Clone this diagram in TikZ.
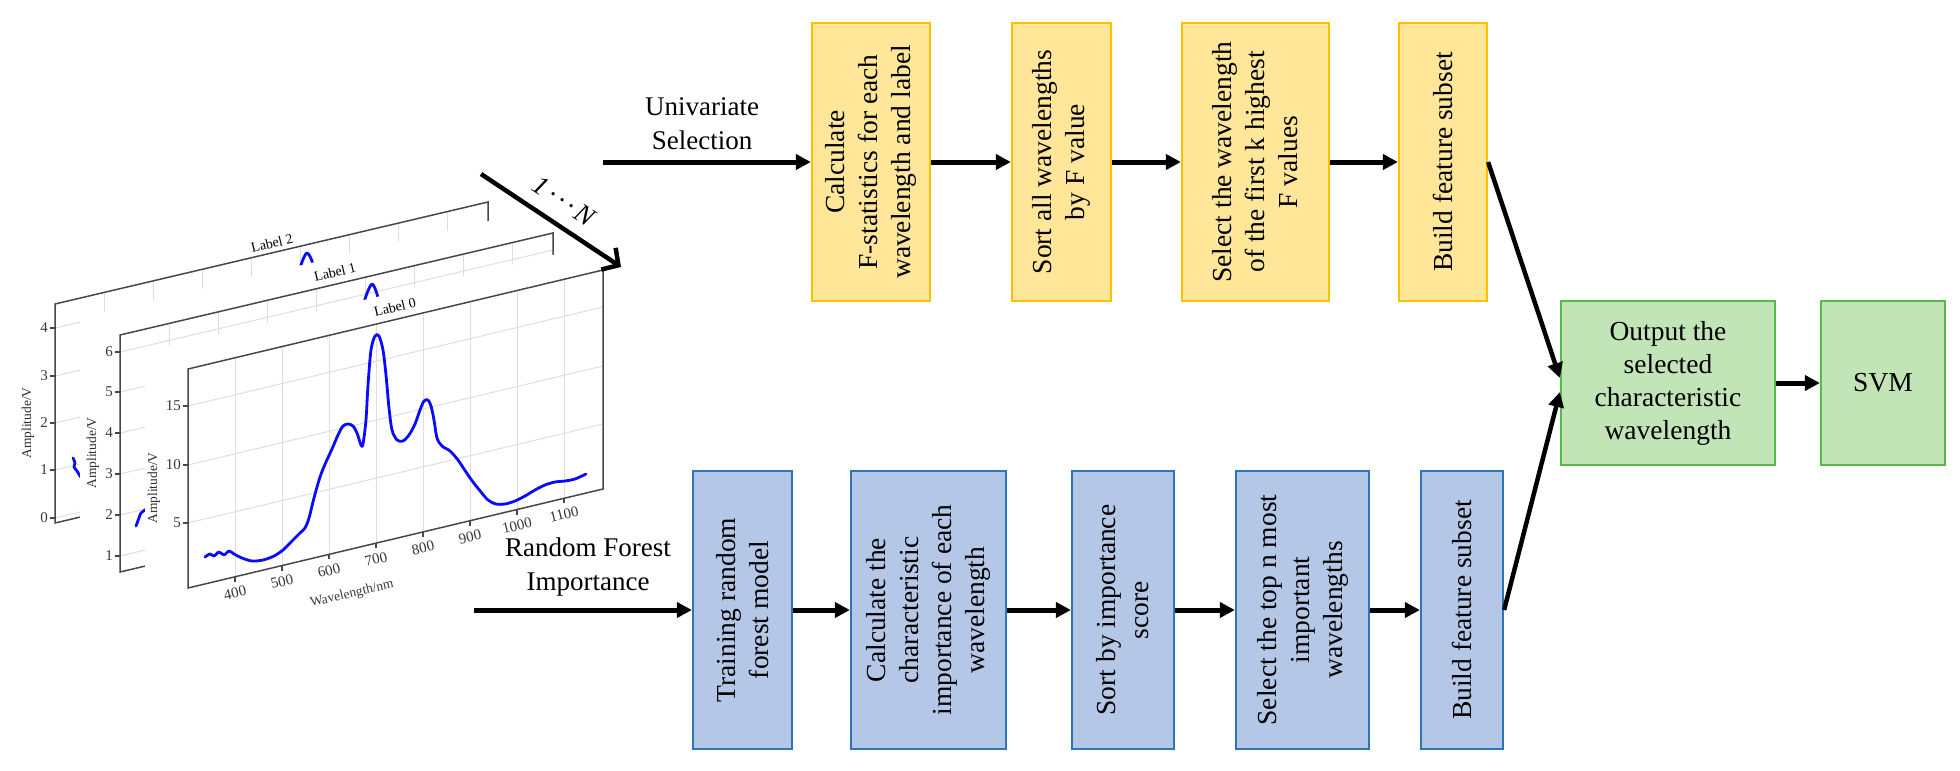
\documentclass[tikz,border=0pt]{standalone}
\usepackage{fontspec}
\setmainfont{Liberation Serif}
\usetikzlibrary{arrows.meta}
\definecolor{ybox}{RGB}{255,230,153}
\definecolor{yline}{RGB}{255,192,0}
\definecolor{bbox}{RGB}{180,199,231}
\definecolor{bline}{RGB}{46,117,182}
\definecolor{gbox}{RGB}{193,229,182}
\definecolor{gline}{RGB}{84,186,72}
\definecolor{specblue}{RGB}{10,10,255}

\begin{document}
\begin{tikzpicture}[x=1pt,y=-1pt,
  box/.style={line width=2.2pt,rotate=90,align=center,inner sep=0pt,
    minimum width=278pt,font=\fontsize{27.5}{33}\selectfont},
  ybx/.style={box,fill=ybox,draw=yline},
  bbx/.style={box,fill=bbox,draw=bline},
  gbx/.style={draw=gline,fill=gbox,line width=2.2pt,align=center,
    inner sep=0pt,minimum height=164pt,font=\fontsize{27.5}{33}\selectfont},
  flow/.style={line width=5pt,-{Triangle[length=15pt,width=15pt]}},
  gridln/.style={black!13,line width=1pt},
  rim/.style={black!72,line width=1.5pt},
  spec/.style={specblue,line width=2.8pt,line cap=round,line join=round},
  ticklbl/.style={font=\fontsize{15}{15}\selectfont,text=black!78,inner sep=1pt},
  axttl/.style={font=\fontsize{13.5}{14}\selectfont,text=black!82,inner sep=0pt,rotate=90},
  facet/.style={font=\fontsize{14}{14}\selectfont,inner sep=0pt,rotate=13.3},
  pathlbl/.style={align=center,font=\fontsize{27}{34}\selectfont,inner sep=0pt}]
\useasboundingbox (0,0) rectangle (1960,771);
% back spectrum, Label 2
\foreach \x in {104,153,...,447}
  \draw[gridln] (\x,{304-0.2356*(\x-55)}) -- (\x,{523-0.2356*(\x-55)});
\foreach \y in {328,376,423,470,518}
  \draw[gridln] (55,\y) -- (488,{\y-102});
\draw[spec] plot[smooth] coordinates {(73,458) (75,463) (74,467) (77,471) (80,476) (84,480)};
\draw[spec] plot[smooth] coordinates {(299,275) (302,262) (307,253) (312,261) (315,275)};
\draw[rim] (55,523) -- (55,304) -- (488,202) -- (488,421) -- cycle;
\foreach \y/\v in {328/4,376/3,423/2,470/1,518/0} {
  \draw[rim] (50,\y) -- (55,\y);
  \node[ticklbl,anchor=east] (bk\v) at (49,\y) {\v};
}
\node[axttl] (bkttl) at (28,423) {Amplitude/V};
\node[facet] (bkfacet) at (272,243) {Label 2};
% middle spectrum, Label 1
\fill[white] (80,317.4) -- (560,204.3) -- (560,536.3) -- (80,649.4) -- cycle;
\foreach \x in {169,218,...,512}
  \draw[gridln] (\x,{335-0.2356*(\x-120)}) -- (\x,{572-0.2356*(\x-120)});
\foreach \y in {352,392,433,474,515,556}
  \draw[gridln] (120,\y) -- (553,{\y-102});
\draw[spec] plot[smooth] coordinates {(362,312) (366,296) (372,284) (377,294) (381,312)};
\draw[spec] plot[smooth] coordinates {(136,526) (139,518) (141,513) (148,508)};
\draw[rim] (120,572) -- (120,335) -- (553,233) -- (553,470) -- cycle;
\foreach \y/\v in {352/6,392/5,433/4,474/3,515/2,556/1} {
  \draw[rim] (115,\y) -- (120,\y);
  \node[ticklbl,anchor=east] (md\v) at (114,\y) {\v};
}
\node[axttl] (mdttl) at (93,453) {Amplitude/V};
\node[facet] (mdfacet) at (335,272) {Label 1};
% front spectrum, Label 0
\fill[white] (145,352.3) -- (615,240.1) -- (615,548) -- (145,660) -- cycle;
\foreach \x in {235,282,...,564}
  \draw[gridln] (\x,{369-0.2386*(\x-188)}) -- (\x,{588-0.2386*(\x-188)});
\foreach \y in {406,465,523}
  \draw[gridln] (188,\y) -- (603,{\y-99});
\draw[spec] plot[smooth,tension=0.5] coordinates {(205,557) (210,554) (214,556)
  (219,552) (224,555) (229,551) (234,554) (242,558) (252,561) (263,560) (274,556)
  (283,550) (292,541) (300,533) (305,528) (309,518) (314,498) (320,477) (326,462)
  (332,449) (338,435) (343,426) (348,424) (353,426) (357,433) (361,445) (363,444)
  (366,420) (368,385) (371,350) (375,336) (379,336) (383,350) (386,375) (389,408)
  (392,430) (397,440) (403,441) (409,435) (415,424) (420,410) (424,401) (428,400)
  (431,406) (434,420) (437,438) (442,446) (450,451) (458,460) (466,472) (473,482)
  (481,492) (488,500) (496,504) (505,504) (515,501) (525,496) (535,490) (545,485)
  (555,482) (565,481) (575,479) (586,474)};
\draw[rim] (188,588) -- (188,369) -- (603,270) -- (603,489) -- cycle;
\foreach \y/\v in {406/15,465/10,523/5} {
  \draw[rim] (183,\y) -- (188,\y);
  \node[ticklbl,anchor=east] (ft\v) at (182,\y) {\v};
}
\foreach \x/\w in {235/400,282/500,329/600,376/700,423/800,470/900,517/1000,564/1100} {
  \draw[rim] (\x,{588-0.2386*(\x-188)}) -- (\x,{593-0.2386*(\x-188)});
  \node[ticklbl,rotate=13.3] (fx\w) at (\x,{604-0.2386*(\x-188)}) {\w};
}
\node[ticklbl,rotate=13.3,font=\fontsize{13.5}{14}\selectfont] (ftxttl) at (352,594) {Wavelength/nm};
\node[axttl] (ftttl) at (154,488) {Amplitude/V};
\node[facet] (ftfacet) at (395,307) {Label 0};
% 1...N arrow
\coordinate (nfrom) at (481,174);
\coordinate (nto) at (621,267);
\draw[line width=4.5pt,-{Straight Barb[length=12pt,width=26pt]}] (nfrom) -- (nto)
  node[midway,sloped,above=9pt,font=\fontsize{27}{27}\selectfont\itshape] (nlbl)
  {1\kern4pt·\kern4pt·\kern4pt·\kern4pt N};
% univariate selection row
\node[ybx,minimum height=118pt] (y1) at (871,162) {Calculate\\F-statistics for each\\wavelength and label};
\node[ybx,minimum height=99pt] (y2) at (1061.5,162) {Sort all wavelengths\\by F value};
\node[ybx,minimum height=147pt] (y3) at (1255.5,162) {Select the wavelength\\of the first k highest\\F values};
\node[ybx,minimum height=88pt] (y4) at (1443,162) {Build feature subset};
% random forest row
\node[bbx,minimum height=99pt] (b1) at (742.5,610) {Training random\\forest model};
\node[bbx,minimum height=155pt] (b2) at (928.5,610) {Calculate the\\characteristic\\importance of each\\wavelength};
\node[bbx,minimum height=102pt] (b3) at (1123,610) {Sort by importance\\score};
\node[bbx,minimum height=133pt] (b4) at (1302.5,610) {Select the top n most\\important\\wavelengths};
\node[bbx,minimum height=82pt] (b5) at (1462,610) {Build feature subset};
% output
\node[gbx,minimum width=214pt] (g1) at (1668,383) {Output the\\selected\\characteristic\\wavelength};
\node[gbx,minimum width=124pt] (g2) at (1883,383) {SVM};
\node[pathlbl] (uvtxt) at (702,124) {Univariate\\Selection};
\node[pathlbl] (rftxt) at (588,567) {Random Forest\\Importance};
\coordinate (uvstart) at (603,162);
\coordinate (rfstart) at (474,610);
% rotated boxes: north is the left side, south the right side
\draw[flow] (uvstart) -- (y1.north);
\draw[flow] (y1.south) -- (y2.north);
\draw[flow] (y2.south) -- (y3.north);
\draw[flow] (y3.south) -- (y4.north);
\draw[flow] (rfstart) -- (b1.north);
\draw[flow] (b1.south) -- (b2.north);
\draw[flow] (b2.south) -- (b3.north);
\draw[flow] (b3.south) -- (b4.north);
\draw[flow] (b4.south) -- (b5.north);
\draw[flow,line width=4.5pt] (y4.south) -- ([yshift=5pt]g1.west);
\draw[flow,line width=4.5pt] (b5.south) -- ([yshift=-9pt]g1.west);
\draw[flow] (g1.east) -- (g2.west);
\end{tikzpicture}
\end{document}
